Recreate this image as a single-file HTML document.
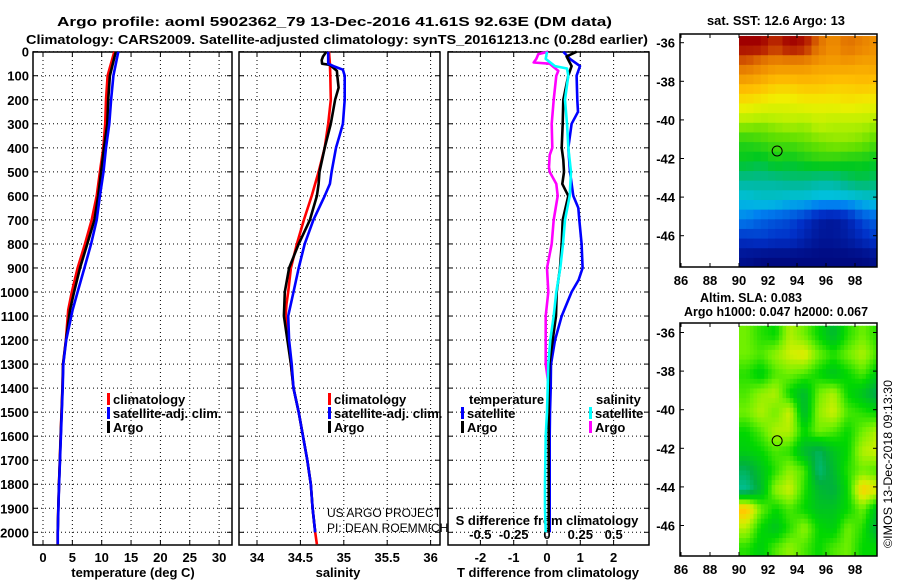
<!DOCTYPE html>
<html><head><meta charset="utf-8"><style>
html,body{margin:0;padding:0;background:#fff;}
svg{display:block;font-family:"Liberation Sans",Arial,sans-serif;}
.b{font-weight:bold;font-size:13px;}
</style></head><body>
<svg id="fig" width="900" height="580" viewBox="0 0 900 580" xmlns="http://www.w3.org/2000/svg">
<rect width="900" height="580" fill="#fff"/>
<text x="57" y="26" class="b" font-size="14" textLength="555" lengthAdjust="spacingAndGlyphs">Argo profile: aoml 5902362_79 13-Dec-2016 41.61S 92.63E (DM data)</text>
<text x="26" y="44" class="b" font-size="14" textLength="622" lengthAdjust="spacingAndGlyphs">Climatology: CARS2009. Satellite-adjusted climatology: synTS_20161213.nc (0.28d earlier)</text>
<text x="707" y="25" class="b" font-size="12" textLength="138" lengthAdjust="spacingAndGlyphs">sat. SST: 12.6 Argo: 13</text>
<text x="700" y="302" class="b" font-size="12" textLength="102" lengthAdjust="spacingAndGlyphs">Altim. SLA: 0.083</text>
<text x="684" y="316" class="b" font-size="12" textLength="184" lengthAdjust="spacingAndGlyphs">Argo h1000: 0.047 h2000: 0.067</text>
<text transform="translate(892,548) rotate(-90)" font-size="12" textLength="168" lengthAdjust="spacingAndGlyphs">©IMOS 13-Dec-2018 09:13:30</text>
<g id="g"></g>
</svg>
<script>
// ---------- data ----------
const depthTicks = [0,100,200,300,400,500,600,700,800,900,1000,1100,1200,1300,1400,1500,1600,1700,1800,1900,2000];
const tempTicks = [0,5,10,15,20,25,30];
const salTicks = [34,34.5,35,35.5,36];
const salTickLabels = ["34","34.5","35","35.5","36"];
const tdiffTicks = [-2,-1,0,1,2];
const sdiffTicks = [-0.5,-0.25,0,0.25,0.5];
const sdiffTickLabels = ["-0.5","-0.25","0","0.25","0.5"];

const tDepth = [0,100,200,300,400,500,600,700,800,900,1000,1075,1200,1300,1400,1500,1600,1700,1800,1900,2000,2050];
const tempClim = [12.15,11.0,10.73,10.6,10.28,9.7,9.14,8.3,7.15,5.9,4.9,4.3,3.9,3.4,3.3,3.15,3.0,2.86,2.72,2.6,2.5,2.5];
const tempSat  = [12.83,12.0,11.6,11.3,10.73,10.3,9.7,9.15,8.2,7.05,5.9,5.05,3.95,3.45,3.35,3.2,3.05,2.9,2.75,2.62,2.52,2.52];
const tempArgo = [12.4,11.4,11.1,10.95,10.4,9.9,9.4,8.75,7.55,6.3,5.3,4.6,3.92,3.42,3.32,3.17,3.02,2.88,2.73,2.61,2.51,2.51];

const sClimDepth = [0,50,100,200,300,400,500,600,700,800,900,1000,1050,1100,1200,1300,1400,1500,1600,1700,1800,1900,2000,2050];
const salClim = [34.83,34.84,34.845,34.85,34.82,34.78,34.71,34.63,34.54,34.46,34.39,34.36,34.34,34.33,34.36,34.39,34.42,34.48,34.53,34.58,34.62,34.64,34.67,34.69];
const sSatDepth = [0,50,60,75,100,200,300,350,400,500,550,600,700,800,900,1000,1100,1200,1300,1400,1500,1600,1700,1800,1900,2000];
const salSat = [34.82,34.82,34.88,34.99,35.01,35.01,34.99,34.95,34.91,34.86,34.84,34.78,34.65,34.55,34.48,34.42,34.36,34.37,34.40,34.42,34.48,34.53,34.58,34.62,34.64,34.67];
const sArgoDepth = [0,20,35,50,55,80,100,150,200,300,400,500,550,600,700,800,900,1000,1100,1200,1300,1400,1500,1600,1700,1800,1900,2000];
const salArgo = [34.80,34.76,34.745,34.75,34.84,34.92,34.925,34.94,34.90,34.85,34.78,34.72,34.71,34.69,34.61,34.48,34.37,34.32,34.31,34.35,34.39,34.42,34.48,34.53,34.58,34.62,34.64,34.67];

const dDepthA = [0,30,60,100,200,250,300,400,500,600,650,700,800,900,950,1000,1100,1200,1300,1400,1500,1600,1800,2000];
const tdiffSat = [0.49,0.69,0.99,0.89,0.91,0.93,0.74,0.64,0.69,0.79,0.94,0.97,1.04,1.07,0.95,0.74,0.44,0.24,0.12,0.11,0.09,0.08,0.08,0.08];
const dDepthB = [0,20,60,100,200,300,400,450,500,550,600,700,800,900,1000,1100,1200,1300,1400,1600,1800,2000];
const tdiffArgo = [0.89,0.59,0.74,0.64,0.49,0.47,0.44,0.49,0.51,0.46,0.64,0.47,0.44,0.39,0.29,0.27,0.17,0.07,0.05,0.05,0.05,0.05];
const dDepthC = [0,30,60,70,100,200,300,350,400,500,600,700,800,900,1000,1100,1200,1300,1400,1500,1600,1800,1900,2000];
const sdiffSat = [0.0,-0.01,0.06,0.15,0.16,0.135,0.15,0.155,0.16,0.18,0.17,0.135,0.12,0.10,0.07,0.05,0.025,0.01,0.005,0.0,-0.01,-0.015,-0.015,-0.01];
const dDepthD = [0,10,30,45,50,80,100,150,200,300,400,430,480,500,550,600,700,800,900,1000,1100,1200,1300,1400,1600,1800,2000];
const sdiffArgo = [0.01,-0.065,-0.08,-0.10,0.02,0.085,0.07,0.06,0.05,0.035,0.04,0.02,0.015,0.02,0.07,0.08,0.05,0.035,0.0,0.01,-0.01,-0.01,-0.01,0.015,0.015,0.015,0.015];

const mapLonTicks = [86,88,90,92,94,96,98];
const mapLatTicks = [-36,-38,-40,-42,-44,-46];
const gridLon0 = 90, gridLat0 = -35.65; // cell origin (1 deg cells)
const sstGrid = [
 [16.5,16.5,16,16.5,16.3,15.5,15,15.5,15.2,15],
 [15.5,15.2,15,15,15,14.8,14.8,14.8,14.7,14.8],
 [14.6,14.5,14.3,14.3,14.4,14.4,14.3,14.3,14.4,14.3],
 [14,13.9,13.8,13.8,13.9,13.9,13.9,14,13.9,13.9],
 [13.3,13.2,13.3,13.4,13.3,13.5,13.4,13.4,13.4,13.3],
 [12.7,12.8,12.9,12.9,13,13.1,13.2,13.2,13.1,12.9],
 [12.5,12.4,12.6,12.5,12.6,12.7,12.7,12.6,12.6,12.5],
 [12,12,12,12.1,12.1,12.0,12,12.2,12.3,12.2],
 [11.6,11.7,11.7,11.6,11.6,11.5,11.5,11.5,11.6,11.7],
 [11.2,11.0,10.9,10.8,10.6,10.3,10.2,10.4,10.8,11.0],
 [10.6,10.7,10.6,10.6,10.4,10.2,10.2,10.3,10.5,10.7],
 [10.1,10,10,10,10,10,10,10,10,10.1]];
const slaGrid = [
 [0.06,0.02,0.0,0.1,0.06,0.0,-0.06,0.02,0.06,0.02],
 [0.06,0.04,0.08,0.12,0.14,0.06,0.02,0.06,0.1,0.04],
 [0.02,-0.02,0.04,0.06,0.04,0.0,-0.04,0.0,0.04,-0.02],
 [0.04,0.08,0.1,0.0,-0.06,0.06,0.1,0.0,-0.04,-0.1],
 [0.06,0.1,0.06,0.12,-0.06,0.08,0.12,0.04,0.02,0.0],
 [0.0,0.04,0.1,0.1,0.0,0.06,0.04,0.0,0.06,0.1],
 [-0.02,0.0,0.04,0.02,-0.06,-0.1,-0.04,0.0,0.1,0.12],
 [-0.1,-0.04,0.02,0.08,0.04,-0.12,-0.06,0.02,0.06,0.04],
 [-0.14,-0.06,0.08,0.12,0.02,-0.06,-0.08,0.0,0.18,0.14],
 [0.2,0.06,0.0,0.04,0.0,-0.04,-0.04,0.0,0.06,-0.04],
 [0.1,0.0,-0.04,0.02,0.08,0.0,-0.02,0.06,0.02,-0.08],
 [0.02,-0.02,0.04,0.08,0.04,0.0,0.04,0.06,0.0,0.0]];
const argoLon = 92.63, argoLat = -41.61;

// ---------- drawing ----------
const NS="http://www.w3.org/2000/svg";
const G=document.getElementById('g');
function mk(tag,attrs,parent){const e=document.createElementNS(NS,tag);for(const k in attrs)e.setAttribute(k,attrs[k]);(parent||G).appendChild(e);return e;}
function txt(x,y,s,anchor,size,bold,parent){const t=mk('text',{x:x,y:y,'text-anchor':anchor||'middle','font-size':size||13,'font-weight':bold===false?'normal':'bold'},parent);t.textContent=s;return t;}

const TOP=52, BOT=545;
const yD=d=>51.7+d*0.2403;
const xT=t=>43+t*5.87;
const xS=s=>257+(s-34)*86.8;
const xTd=t=>547+t*33.3;
const xSd=s=>547+s*133.3;
const panels=[{l:33,r:232,name:'temperature-panel'},{l:239,r:440,name:'salinity-panel'},{l:448,r:649,name:'difference-panel'}];

panels.forEach((p,i)=>{
  const g=mk('g',{});
  
  
  depthTicks.forEach(d=>{const y=yD(d);
    mk('line',{x1:p.l,x2:p.r,y1:y,y2:y,stroke:'#000','stroke-width':1,'stroke-dasharray':'1,3'},g);
    mk('line',{x1:p.l,x2:p.l+5,y1:y,y2:y,stroke:'#000'},g);
    mk('line',{x1:p.r-5,x2:p.r,y1:y,y2:y,stroke:'#000'},g);
  });
  let xs = i===0?tempTicks.map(xT):i===1?salTicks.map(xS):tdiffTicks.map(xTd);
  xs.forEach(x=>{mk('line',{x1:x,x2:x,y1:TOP,y2:BOT,stroke:'#000','stroke-width':1,'stroke-dasharray':'1,3'},g);
    mk('line',{x1:x,x2:x,y1:TOP,y2:TOP+5,stroke:'#000'},g);mk('line',{x1:x,x2:x,y1:BOT-5,y2:BOT,stroke:'#000'},g);});
  mk('rect',{x:p.l,y:TOP,width:p.r-p.l,height:BOT-TOP,fill:'none',stroke:'#000','stroke-width':1.5},g);
});

const dl=mk('g',{});


depthTicks.forEach(d=>{txt(29,yD(d)+5,String(d),'end',13,true,dl);});

function axisLabels(ticks,labels,fx,y,name){const g=mk('g',{});
  
  
  ticks.forEach((t,i)=>txt(fx(t),y,labels[i],'middle',13,true,g));}
axisLabels(tempTicks,tempTicks.map(String),xT,562,'temperature-tick-labels');
axisLabels(salTicks,salTickLabels,xS,562,'salinity-tick-labels');
axisLabels(tdiffTicks,tdiffTicks.map(String),xTd,562,'tdiff-tick-labels');
axisLabels(sdiffTicks,sdiffTickLabels,xSd,539,'sdiff-tick-labels');
let t;
t=txt(133,577,'temperature (deg C)');
t=txt(338,577,'salinity');
t=txt(548,577,'T difference from climatology');
t=txt(547,525,'S difference from climatology');
t=txt(327,517,'US ARGO PROJECT','start',12,false);
t=txt(327,532,'PI: DEAN ROEMMICH','start',12,false);

function series(depths,vals,fx,color,name){
  const pts=depths.map((d,i)=>fx(vals[i]).toFixed(1)+','+yD(d).toFixed(1)).join(' ');
  const pl=mk('polyline',{points:pts,fill:'none',stroke:color,'stroke-width':2.6,'stroke-linejoin':'round'});
  
  
}
series(tDepth,tempClim,xT,'#f00','temp-climatology-line');
series(tDepth,tempArgo,xT,'#000','temp-argo-line');
series(tDepth,tempSat,xT,'#00f','temp-satellite-line');
series(sClimDepth,salClim,xS,'#f00','sal-climatology-line');
series(sArgoDepth,salArgo,xS,'#000','sal-argo-line');
series(sSatDepth,salSat,xS,'#00f','sal-satellite-line');
series(dDepthD,sdiffArgo,xSd,'#f0f','sdiff-argo-line');
series(dDepthA,tdiffSat,xTd,'#00f','tdiff-satellite-line');
series(dDepthB,tdiffArgo,xTd,'#000','tdiff-argo-line');
series(dDepthC,sdiffSat,xSd,'#0ff','sdiff-satellite-line');

function legend(x,y,color,label,name){const g=mk('g',{});
  
  
  mk('rect',{x:x,y:y-11,width:3,height:12,fill:color},g);
  txt(x+6,y,label,'start',13,true,g);}
legend(107,404,'#f00','climatology','legend-temp-climatology');
legend(107,418,'#00f','satellite-adj. clim.','legend-temp-satellite');
legend(107,432,'#000','Argo','legend-temp-argo');
legend(328,404,'#f00','climatology','legend-sal-climatology');
legend(328,418,'#00f','satellite-adj. clim.','legend-sal-satellite');
legend(328,432,'#000','Argo','legend-sal-argo');
t=txt(469,404,'temperature','start');
t=txt(596,404,'salinity','start');
legend(461,418,'#00f','satellite','legend-tdiff-satellite');
legend(461,432,'#000','Argo','legend-tdiff-argo');
legend(589,418,'#0ff','satellite','legend-sdiff-satellite');
legend(589,432,'#f0f','Argo','legend-sdiff-argo');

// colormaps
function interp(stops,v){if(v<=stops[0][0])return stops[0][1];
  for(let i=1;i<stops.length;i++){if(v<=stops[i][0]){const a=stops[i-1],b=stops[i],f=(v-a[0])/(b[0]-a[0]);
    const ca=a[1],cb=b[1];return ca.map((c,k)=>Math.round(c+(cb[k]-c)*f));}}return stops[stops.length-1][1];}
const sstStops=[[10,[0,10,128]],[10.6,[0,48,200]],[11.2,[0,128,240]],[11.6,[0,192,224]],[12.0,[0,184,152]],[12.5,[0,200,32]],[13.0,[96,224,0]],[13.4,[184,240,0]],[13.9,[240,240,0]],[14.4,[255,192,0]],[15,[240,144,0]],[15.5,[224,112,0]],[16,[192,48,0]],[16.5,[160,0,0]]];
const slaStops=[[-0.15,[0,192,160]],[-0.08,[0,176,64]],[0,[0,216,0]],[0.06,[112,240,0]],[0.12,[208,240,0]],[0.18,[255,208,0]],[0.22,[255,176,0]]];

// bilinear sample of grid (cell centres) for smooth rendering
function sample(grid,r,c){
  const R=grid.length,C=grid[0].length;
  r=Math.max(0,Math.min(R-1,r));c=Math.max(0,Math.min(C-1,c));
  const r0=Math.floor(r),c0=Math.floor(c),r1=Math.min(R-1,r0+1),c1=Math.min(C-1,c0+1),fr=r-r0,fc=c-c0;
  return grid[r0][c0]*(1-fr)*(1-fc)+grid[r0][c1]*(1-fr)*fc+grid[r1][c0]*fr*(1-fc)+grid[r1][c1]*fr*fc;
}

function drawMap(o){
  const g=mk('g',{});
  
  
  const xL=lon=>681+(lon-86)*14.5;
  const yL=lat=>o.y36+(-36-lat)*19.3;
  const sub=o.sub;
  const R=o.grid.length,C=o.grid[0].length;
  for(let r=0;r<R*sub;r++)for(let c=0;c<C*sub;c++){
    const v=sub===1?o.grid[r][c]:sample(o.grid,(r+0.5)/sub-0.5,(c+0.5)/sub-0.5);
    const x0=xL(gridLon0+c/sub), x1=Math.min(xL(gridLon0+(c+1)/sub),877);
    const y0=Math.max(yL(gridLat0-r/sub),o.top), y1=Math.min(yL(gridLat0-(r+1)/sub),o.bot);
    if(x1<=x0||y1<=y0)continue;
    const col=interp(o.stops,v);
    const cell=mk('rect',{x:x0,y:y0,width:x1-x0+0.5,height:y1-y0+0.5,fill:'rgb('+col.join(',')+')'},g);
    
    
  }
  const c=mk('circle',{cx:xL(argoLon),cy:yL(argoLat),r:5,fill:'none',stroke:'#000','stroke-width':1},g);
  
  
  mk('rect',{x:680,y:o.top,width:197,height:o.bot-o.top,fill:'none',stroke:'#000','stroke-width':1.5},g);
  mapLonTicks.forEach(lon=>{const x=xL(lon);mk('line',{x1:x,x2:x,y1:o.bot,y2:o.bot-4,stroke:'#000'},g);mk('line',{x1:x,x2:x,y1:o.top,y2:o.top+4,stroke:'#000'},g);
    txt(x,o.bot+18,String(lon),'middle',13,true,g);});
  mapLatTicks.forEach(lat=>{const y=yL(lat);mk('line',{x1:680,x2:684,y1:y,y2:y,stroke:'#000'},g);mk('line',{x1:873,x2:877,y1:y,y2:y,stroke:'#000'},g);
    txt(675,y+5,String(lat),'end',13,true,g);});
}
drawMap({name:'sst-map',grid:sstGrid,stops:sstStops,top:34,bot:267,y36:42.7,sub:2});
drawMap({name:'sla-map',grid:slaGrid,stops:slaStops,top:323,bot:556,y36:332.5,sub:4});
</script>
</body></html>
